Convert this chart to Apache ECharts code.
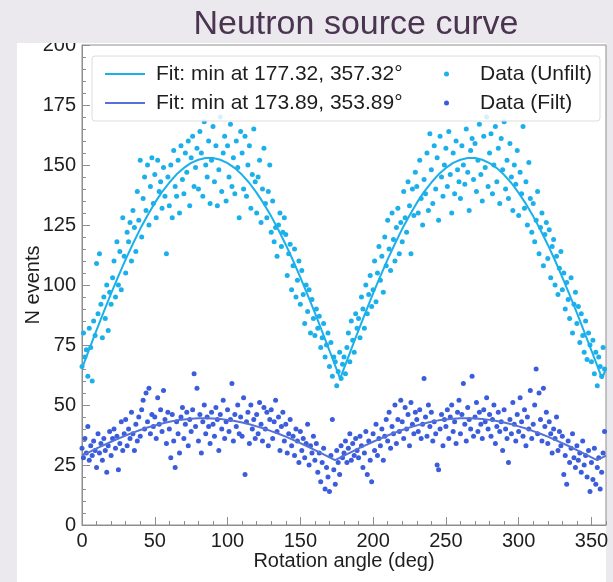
<!DOCTYPE html>
<html>
<head>
<meta charset="utf-8">
<script src="https://cdn.jsdelivr.net/npm/echarts@6/dist/echarts.min.js"></script>
<style>
  html, body { margin: 0; padding: 0; background: #ebe9ee; }
  #chart { width: 613px; height: 582px; }
</style>
</head>
<body>
<div id="chart"></div>
<script>
// Rotation scan of the neutron source: one count per degree, unfiltered and filtered.
const ANGLE_STEP = 1; // degrees between successive measurements

const unfiltCounts = [
  66,80,70,73,62,82,74,60,85,79,
  109,88,113,92,78,95,86,100,81,97,
  92,103,110,95,118,100,114,98,128,112,
  105,122,118,126,110,131,124,114,139,127,
  152,120,136,145,131,150,125,141,153,134,
  146,128,152,139,143,132,149,137,113,145,
  133,150,128,156,141,137,152,130,158,144,
  138,155,147,160,133,153,162,141,149,157,
  140,164,155,137,168,150,145,160,134,152,
  166,143,158,133,148,170,139,155,162,135,
  158,145,167,141,153,138,160,149,128,164,
  155,140,162,137,150,158,132,146,165,143,
  130,145,152,126,140,157,134,128,139,150,
  122,135,118,124,112,125,130,116,122,128,
  121,104,113,117,98,108,115,95,102,110,
  92,106,96,84,100,89,98,80,94,86,
  79,90,82,87,74,78,84,70,75,80,
  66,76,62,70,68,58,64,72,61,67,
  70,63,74,80,68,85,77,72,88,82,
  86,78,95,90,82,100,88,96,104,91,
  98,110,93,105,116,102,112,97,120,108,
  127,115,106,130,119,110,124,132,113,126,
  118,139,128,122,143,133,113,140,129,147,
  141,130,152,136,125,144,138,155,131,163,
  148,134,158,140,153,127,162,145,137,150,
  157,141,164,146,130,155,138,160,148,143,
  136,158,150,142,165,147,131,156,161,144,
  159,139,152,167,146,135,162,149,170,141,
  155,163,138,150,166,143,157,134,161,148,
  168,140,152,136,159,145,131,150,142,156,
  129,147,138,166,132,143,125,151,136,122,
  134,118,127,139,113,124,130,108,121,126,
  111,123,103,116,119,100,112,96,107,114,
  98,105,90,101,94,86,103,80,92,97,
  84,91,76,88,79,72,85,69,80,75,
  68,77,63,72,58,70,66,62,74,65
];

const filtCounts = [
  32,28,36,30,41,27,33,29,35,31,
  24,38,30,34,27,36,31,22,33,39,
  29,36,40,32,37,23,34,43,31,38,
  44,33,40,36,47,38,31,42,35,45,
  37,48,52,40,55,43,57,38,46,41,
  45,36,53,42,48,39,56,44,34,47,
  40,28,46,35,24,43,38,30,45,49,
  36,42,47,33,44,39,48,63,41,57,
  35,46,30,43,50,38,45,41,34,47,
  42,37,49,44,31,46,40,52,36,43,
  48,39,44,59,35,46,41,50,38,45,
  37,53,21,43,47,34,50,40,44,36,
  46,38,51,42,35,49,40,47,33,44,
  48,36,43,52,39,45,31,41,47,35,
  42,30,38,44,33,37,29,40,35,26,
  39,31,36,28,34,42,25,33,30,37,
  27,34,22,30,18,26,32,15,24,20,
  14,29,44,23,17,31,26,21,33,28,
  30,35,26,32,38,27,34,29,36,31,
  28,37,33,24,30,39,21,35,27,18,
  38,31,42,29,36,33,40,27,37,44,
  35,47,32,41,38,50,34,44,39,52,
  43,36,49,40,46,33,51,42,38,47,
  44,39,48,36,42,61,45,37,50,41,
  47,35,43,38,25,23,40,46,33,44,
  41,48,36,45,50,39,43,34,47,52,
  38,46,59,42,35,49,44,40,62,37,
  45,51,39,47,42,36,48,43,53,40,
  46,37,44,50,34,41,47,39,43,31,
  48,40,36,26,44,38,51,42,35,46,
  39,53,43,37,48,33,45,40,56,36,
  42,50,65,38,55,44,35,57,41,47,
  34,43,38,30,40,36,45,31,39,33,
  37,21,29,17,35,26,32,38,28,24,
  33,27,30,22,35,25,29,20,31,14,
  26,19,32,17,24,28,15,22,30,39
];

// Fitted curves, sampled along the scan (minima included)
const fitUnfiltAngles = [
  0,5,10,15,20,25,30,35,40,45,50,55,60,65,70,75,80,85,90,95,100,105,110,115,120,125,130,135,140,145,150,155,160,165,170,175,
  177.32,
  180,185,190,195,200,205,210,215,220,225,230,235,240,245,250,255,260,265,270,275,280,285,290,295,300,305,310,315,320,325,330,335,340,345,350,355,
  357.32, 360
];
const fitUnfiltValues = [
  65.3,73.3,81.2,88.9,96.5,103.7,110.7,117.2,123.4,129.0,134.2,138.8,142.7,146.1,148.8,150.9,152.2,152.9,152.9,152.2,150.8,148.7,145.9,142.5,138.4,133.8,128.6,122.9,116.8,110.2,103.2,95.9,88.4,80.6,72.7,64.7,
  61.0,
  65.3,73.3,81.2,88.9,96.5,103.7,110.7,117.2,123.4,129.0,134.2,138.8,142.7,146.1,148.8,150.9,152.2,152.9,152.9,152.2,150.8,148.7,145.9,142.5,138.4,133.8,128.6,122.9,116.8,110.2,103.2,95.9,88.4,80.6,72.7,64.7,
  61.0, 65.3
];
const fitFiltAngles = [
  0,5,10,15,20,25,30,35,40,45,50,55,60,65,70,75,80,85,90,95,100,105,110,115,120,125,130,135,140,145,150,155,160,165,170,
  173.89,
  175,180,185,190,195,200,205,210,215,220,225,230,235,240,245,250,255,260,265,270,275,280,285,290,295,300,305,310,315,320,325,330,335,340,345,350,
  353.89, 355, 360
];
const fitFiltValues = [
  28.9,30.4,31.9,33.3,34.7,36.0,37.3,38.5,39.6,40.6,41.5,42.3,43.0,43.6,44.0,44.3,44.5,44.5,44.4,44.2,43.8,43.3,42.7,42.0,41.1,40.2,39.1,38.0,36.8,35.5,34.1,32.7,31.2,29.7,28.2,
  27.0,
  27.3,28.9,30.4,31.9,33.3,34.7,36.0,37.3,38.5,39.6,40.6,41.5,42.3,43.0,43.6,44.0,44.3,44.5,44.5,44.4,44.2,43.8,43.3,42.7,42.0,41.1,40.2,39.1,38.0,36.8,35.5,34.1,32.7,31.2,29.7,28.2,
  27.0, 27.3, 28.9
];

const seriesNames = {
  fitUnfilt: 'Fit: min at 177.32, 357.32\u00b0',
  fitFilt: 'Fit: min at 173.89, 353.89\u00b0',
  dataUnfilt: 'Data (Unfilt)',
  dataFilt: 'Data (Filt)'
};

const FONT = '"Liberation Sans", Arial, Helvetica, sans-serif';
const CYAN = '#1cb0ea';
const BLUE = '#3b5cdb';
const BLUE_LINE = '#5672d8';
const FRAME = '#8e8e8e';
const INK = '#1e1e1e';

const pairs = (xs, ys) => ys.map((v, i) => [xs[i], v]);
const scan = (counts) => counts.map((v, i) => [i * ANGLE_STEP, v]);

const chart = echarts.init(document.getElementById('chart'), null, { renderer: 'canvas' });

chart.setOption({
  animation: false,
  backgroundColor: '#ebe9ee',
  textStyle: { fontFamily: FONT },
  grid: {
    left: 82, right: 7, top: 45, bottom: 57,
    show: true, borderColor: FRAME, borderWidth: 1, backgroundColor: 'transparent'
  },
  xAxis: [
    {
      type: 'value', min: 0, max: 360, interval: 50, position: 'bottom',
      axisLine: { show: true, onZero: false, lineStyle: { color: FRAME } },
      axisTick: { show: true, inside: true, length: 8, lineStyle: { color: FRAME } },
      axisLabel: { fontSize: 20, color: INK, margin: 6, showMaxLabel: false, fontFamily: FONT },
      splitLine: { show: false },
      name: 'Rotation angle (deg)', nameLocation: 'middle', nameGap: 26, nameMoveOverlap: false,
      nameTextStyle: { fontSize: 20, color: INK, fontFamily: FONT, verticalAlign: 'top' }
    },
    {
      type: 'value', min: 0, max: 360, interval: 10, position: 'bottom',
      axisLine: { show: false },
      axisTick: { show: true, inside: true, length: 4, lineStyle: { color: FRAME } },
      axisLabel: { show: false },
      splitLine: { show: false }
    }
  ],
  yAxis: {
    type: 'value', min: 0, max: 200, interval: 25,
    axisLine: { show: true, onZero: false, lineStyle: { color: FRAME } },
    axisTick: { show: true, inside: true, length: 8, lineStyle: { color: FRAME } },
    minorTick: { show: true, splitNumber: 5, length: 4, lineStyle: { color: FRAME } },
    axisLabel: { fontSize: 20, color: INK, margin: 6, fontFamily: FONT },
    splitLine: { show: false },
    name: 'N events', nameLocation: 'middle', nameGap: 49, nameRotate: 90, nameMoveOverlap: false,
    nameTextStyle: { fontSize: 20, color: INK, fontFamily: FONT, verticalAlign: 'middle' }
  },
  legend: [
    {
      data: [seriesNames.fitUnfilt, seriesNames.fitFilt],
      orient: 'vertical', left: 100, top: 58, z: 60,
      icon: 'rect', itemWidth: 40, itemHeight: 2, itemGap: 7,
      selectedMode: false,
      textStyle: { fontSize: 21, color: INK, lineHeight: 22, padding: [0, 0, 0, 6], fontFamily: FONT }
    },
    {
      data: [seriesNames.dataUnfilt, seriesNames.dataFilt],
      orient: 'vertical', left: 439, top: 58, z: 60,
      icon: 'circle', itemWidth: 5, itemHeight: 5, itemGap: 7,
      selectedMode: false,
      textStyle: { fontSize: 21, color: INK, lineHeight: 22, padding: [0, 0, 0, 26], fontFamily: FONT }
    }
  ],
  graphic: [
    { type: 'rect', z: -10, shape: { x: 17, y: 43, width: 589, height: 539 }, style: { fill: '#ffffff' } },
    { type: 'rect', z: 100, shape: { x: 0, y: 0, width: 613, height: 43 }, style: { fill: '#ebe9ee' } },
    {
      type: 'text', z: 101, x: 356, y: 25,
      style: { text: 'Neutron source curve', fill: '#4a3450', font: '34px ' + FONT, align: 'center', verticalAlign: 'middle' }
    },
    {
      type: 'rect', z: 50,
      shape: { x: 92, y: 56, width: 508, height: 65, r: 3 },
      style: { fill: 'rgba(255,255,255,0.82)', stroke: '#dcdcdc', lineWidth: 1 }
    }
  ],
  series: [
    {
      name: seriesNames.dataUnfilt, type: 'scatter', z: 2,
      symbolSize: 5, itemStyle: { color: CYAN, opacity: 1 },
      data: scan(unfiltCounts)
    },
    {
      name: seriesNames.dataFilt, type: 'scatter', z: 2,
      symbolSize: 5, itemStyle: { color: BLUE, opacity: 1 },
      data: scan(filtCounts)
    },
    {
      name: seriesNames.fitUnfilt, type: 'line', z: 3,
      showSymbol: false, symbol: 'none', smooth: false,
      itemStyle: { color: CYAN }, lineStyle: { color: CYAN, width: 2 },
      data: pairs(fitUnfiltAngles, fitUnfiltValues)
    },
    {
      name: seriesNames.fitFilt, type: 'line', z: 3,
      showSymbol: false, symbol: 'none', smooth: false,
      itemStyle: { color: BLUE_LINE }, lineStyle: { color: BLUE_LINE, width: 2 },
      data: pairs(fitFiltAngles, fitFiltValues)
    }
  ]
});
</script>
</body>
</html>
